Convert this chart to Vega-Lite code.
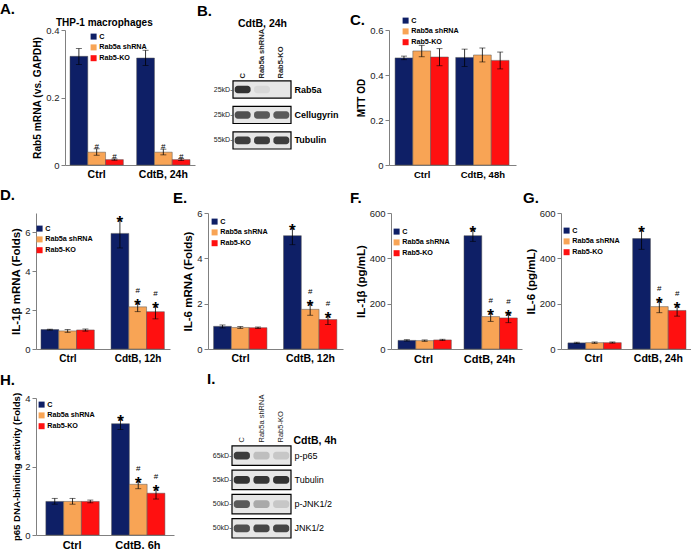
{
"$schema": "https://vega.github.io/schema/vega-lite/v6.json",
"padding": {"left": 0, "top": 2, "right": 0, "bottom": 0},
"background": "white",
"config": {
 "font": "Liberation Sans",
 "view": {"stroke": null},
 "axis": {"grid": false, "domainColor": "#808080", "tickColor": "#808080", "labelColor": "#222222", "titleColor": "black", "labelFont": "Liberation Sans", "titleFont": "Liberation Sans"},
 "axisY": {"tickSize": 4, "labelFontSize": 9.5, "titleFontSize": 11, "titleFontWeight": "bold", "labelPadding": 2, "titlePadding": 3},
 "legend": {"title": null, "symbolType": "square", "symbolSize": 36, "symbolStrokeWidth": 0, "labelFontSize": 7.2, "labelFontWeight": "bold", "labelColor": "black", "rowPadding": 2.8, "labelOffset": 2, "padding": 0},
 "title": {"font": "Liberation Sans", "fontWeight": "bold", "fontSize": 15, "anchor": "start", "frame": "group", "color": "black", "offset": 2}
},
"datasets": {
 "bars": [
  {"panel":"A","grp":"Ctrl","cond":"C","v":0.322,"lo":0.298,"hi":0.345,"star":false,"hash":false},
  {"panel":"A","grp":"Ctrl","cond":"Rab5a shRNA","v":0.038,"lo":0.029,"hi":0.048,"star":false,"hash":true},
  {"panel":"A","grp":"Ctrl","cond":"Rab5-KO","v":0.016,"lo":0.014,"hi":0.018,"star":false,"hash":true},
  {"panel":"A","grp":"CdtB, 24h","cond":"C","v":0.317,"lo":0.295,"hi":0.340,"star":false,"hash":false},
  {"panel":"A","grp":"CdtB, 24h","cond":"Rab5a shRNA","v":0.038,"lo":0.030,"hi":0.047,"star":false,"hash":true},
  {"panel":"A","grp":"CdtB, 24h","cond":"Rab5-KO","v":0.016,"lo":0.013,"hi":0.019,"star":false,"hash":true},
  {"panel":"C","grp":"Ctrl","cond":"C","v":0.476,"lo":0.468,"hi":0.484,"star":false,"hash":false},
  {"panel":"C","grp":"Ctrl","cond":"Rab5a shRNA","v":0.507,"lo":0.481,"hi":0.532,"star":false,"hash":false},
  {"panel":"C","grp":"Ctrl","cond":"Rab5-KO","v":0.480,"lo":0.441,"hi":0.517,"star":false,"hash":false},
  {"panel":"C","grp":"CdtB, 48h","cond":"C","v":0.478,"lo":0.438,"hi":0.515,"star":false,"hash":false},
  {"panel":"C","grp":"CdtB, 48h","cond":"Rab5a shRNA","v":0.489,"lo":0.458,"hi":0.520,"star":false,"hash":false},
  {"panel":"C","grp":"CdtB, 48h","cond":"Rab5-KO","v":0.465,"lo":0.427,"hi":0.502,"star":false,"hash":false},
  {"panel":"D","grp":"Ctrl","cond":"C","v":1.00,"lo":0.97,"hi":1.02,"star":false,"hash":false},
  {"panel":"D","grp":"Ctrl","cond":"Rab5a shRNA","v":0.93,"lo":0.86,"hi":1.00,"star":false,"hash":false},
  {"panel":"D","grp":"Ctrl","cond":"Rab5-KO","v":0.98,"lo":0.92,"hi":1.03,"star":false,"hash":false},
  {"panel":"D","grp":"CdtB, 12h","cond":"C","v":5.95,"lo":5.20,"hi":6.70,"star":true,"hash":false},
  {"panel":"D","grp":"CdtB, 12h","cond":"Rab5a shRNA","v":2.17,"lo":1.92,"hi":2.42,"star":true,"hash":true},
  {"panel":"D","grp":"CdtB, 12h","cond":"Rab5-KO","v":1.92,"lo":1.55,"hi":2.28,"star":true,"hash":true},
  {"panel":"E","grp":"Ctrl","cond":"C","v":1.00,"lo":0.93,"hi":1.06,"star":false,"hash":false},
  {"panel":"E","grp":"Ctrl","cond":"Rab5a shRNA","v":0.95,"lo":0.91,"hi":0.99,"star":false,"hash":false},
  {"panel":"E","grp":"Ctrl","cond":"Rab5-KO","v":0.94,"lo":0.91,"hi":0.97,"star":false,"hash":false},
  {"panel":"E","grp":"CdtB, 12h","cond":"C","v":5.00,"lo":4.60,"hi":5.40,"star":true,"hash":false},
  {"panel":"E","grp":"CdtB, 12h","cond":"Rab5a shRNA","v":1.75,"lo":1.49,"hi":2.02,"star":true,"hash":true},
  {"panel":"E","grp":"CdtB, 12h","cond":"Rab5-KO","v":1.30,"lo":1.08,"hi":1.52,"star":true,"hash":true},
  {"panel":"F","grp":"Ctrl","cond":"C","v":38,"lo":35,"hi":41,"star":false,"hash":false},
  {"panel":"F","grp":"Ctrl","cond":"Rab5a shRNA","v":37,"lo":34,"hi":40,"star":false,"hash":false},
  {"panel":"F","grp":"Ctrl","cond":"Rab5-KO","v":40,"lo":37,"hi":43,"star":false,"hash":false},
  {"panel":"F","grp":"CdtB, 24h","cond":"C","v":500,"lo":475,"hi":528,"star":true,"hash":false},
  {"panel":"F","grp":"CdtB, 24h","cond":"Rab5a shRNA","v":143,"lo":122,"hi":165,"star":true,"hash":true},
  {"panel":"F","grp":"CdtB, 24h","cond":"Rab5-KO","v":137,"lo":116,"hi":157,"star":true,"hash":true},
  {"panel":"G","grp":"Ctrl","cond":"C","v":27,"lo":24,"hi":30,"star":false,"hash":false},
  {"panel":"G","grp":"Ctrl","cond":"Rab5a shRNA","v":28,"lo":25,"hi":31,"star":false,"hash":false},
  {"panel":"G","grp":"Ctrl","cond":"Rab5-KO","v":28,"lo":26,"hi":31,"star":false,"hash":false},
  {"panel":"G","grp":"CdtB, 24h","cond":"C","v":487,"lo":440,"hi":530,"star":true,"hash":false},
  {"panel":"G","grp":"CdtB, 24h","cond":"Rab5a shRNA","v":187,"lo":160,"hi":215,"star":true,"hash":true},
  {"panel":"G","grp":"CdtB, 24h","cond":"Rab5-KO","v":170,"lo":145,"hi":195,"star":true,"hash":true},
  {"panel":"H","grp":"Ctrl","cond":"C","v":0.98,"lo":0.90,"hi":1.07,"star":false,"hash":false},
  {"panel":"H","grp":"Ctrl","cond":"Rab5a shRNA","v":0.98,"lo":0.90,"hi":1.07,"star":false,"hash":false},
  {"panel":"H","grp":"Ctrl","cond":"Rab5-KO","v":0.98,"lo":0.94,"hi":1.02,"star":false,"hash":false},
  {"panel":"H","grp":"CdtB, 6h","cond":"C","v":3.25,"lo":3.08,"hi":3.42,"star":true,"hash":false},
  {"panel":"H","grp":"CdtB, 6h","cond":"Rab5a shRNA","v":1.48,"lo":1.35,"hi":1.62,"star":true,"hash":true},
  {"panel":"H","grp":"CdtB, 6h","cond":"Rab5-KO","v":1.22,"lo":1.05,"hi":1.38,"star":true,"hash":true}
 ],
 "frames": [
  {"blot":"B","key":"25kD-|Rab5a"},
  {"blot":"B","key":"25kD-|Cellugyrin"},
  {"blot":"B","key":"55kD-|Tubulin"},
  {"blot":"I","key":"65kD-|p-p65"},
  {"blot":"I","key":"55kD-|Tubulin"},
  {"blot":"I","key":"50kD-|p-JNK1/2"},
  {"blot":"I","key":"50kD-|JNK1/2"}
 ],
 "blots": [
  {"blot":"B","key":"25kD-|Rab5a","lane":"C","inten":0.9},
  {"blot":"B","key":"25kD-|Rab5a","lane":"Rab5a shRNA","inten":0.07},
  {"blot":"B","key":"25kD-|Rab5a","lane":"Rab5-KO","inten":0.0},
  {"blot":"B","key":"25kD-|Cellugyrin","lane":"C","inten":0.75},
  {"blot":"B","key":"25kD-|Cellugyrin","lane":"Rab5a shRNA","inten":0.7},
  {"blot":"B","key":"25kD-|Cellugyrin","lane":"Rab5-KO","inten":0.7},
  {"blot":"B","key":"55kD-|Tubulin","lane":"C","inten":0.85},
  {"blot":"B","key":"55kD-|Tubulin","lane":"Rab5a shRNA","inten":0.85},
  {"blot":"B","key":"55kD-|Tubulin","lane":"Rab5-KO","inten":0.85},
  {"blot":"I","key":"65kD-|p-p65","lane":"C","inten":0.85},
  {"blot":"I","key":"65kD-|p-p65","lane":"Rab5a shRNA","inten":0.2},
  {"blot":"I","key":"65kD-|p-p65","lane":"Rab5-KO","inten":0.15},
  {"blot":"I","key":"55kD-|Tubulin","lane":"C","inten":0.9},
  {"blot":"I","key":"55kD-|Tubulin","lane":"Rab5a shRNA","inten":0.88},
  {"blot":"I","key":"55kD-|Tubulin","lane":"Rab5-KO","inten":0.9},
  {"blot":"I","key":"50kD-|p-JNK1/2","lane":"C","inten":0.7},
  {"blot":"I","key":"50kD-|p-JNK1/2","lane":"Rab5a shRNA","inten":0.3},
  {"blot":"I","key":"50kD-|p-JNK1/2","lane":"Rab5-KO","inten":0.15},
  {"blot":"I","key":"50kD-|JNK1/2","lane":"C","inten":0.75},
  {"blot":"I","key":"50kD-|JNK1/2","lane":"Rab5a shRNA","inten":0.8},
  {"blot":"I","key":"50kD-|JNK1/2","lane":"Rab5-KO","inten":0.8}
 ]
},
"spacing": 8,
"resolve": {"scale": {"color": "independent", "x": "independent", "y": "independent"}, "legend": {"color": "independent"}},
"vconcat": [
 {"bounds": "flush", "spacing": 0,
  "resolve": {"scale": {"color": "independent", "x": "independent", "y": "independent"}, "legend": {"color": "independent"}},
  "hconcat": [
 {"width": 29, "height": 135, "title": {"text": "A.", "dx": -36, "offset": 13}, "data": {"values": []}, "mark": {"type": "point", "opacity": 0}},
 {"width": 130, "height": 135,
  "title": {"text": "THP-1 macrophages", "fontSize": 10, "dx": -9, "offset": -3},
  "data": {"name": "bars"},
  "transform": [{"filter": "datum.panel === 'A'"}],
  "encoding": {
   "x": {"field": "grp", "type": "nominal", "sort": null, "scale": {"paddingInner": 0.2, "paddingOuter": 0.075}, "axis": {"title": null, "labelAngle": 0, "labelFontSize": 10.5, "labelFontWeight": "bold", "labelColor": "black", "ticks": false, "labelPadding": 4}},
   "xOffset": {"field": "cond", "type": "nominal", "scale": {"domain": ["C", "Rab5a shRNA", "Rab5-KO"], "paddingInner": 0, "paddingOuter": 0}}
  },
  "layer": [
   {"mark": {"type": "bar", "stroke": "#555555", "strokeWidth": 0.5},
    "encoding": {
     "y": {"field": "v", "type": "quantitative", "scale": {"domain": [0, 0.4], "nice": false}, "axis": {"values": [0, 0.1, 0.2, 0.3, 0.4], "format": "~g", "title": "Rab5 mRNA (vs. GAPDH)", "titleFontSize": 10.2}},
     "color": {"field": "cond", "type": "nominal", "scale": {"domain": ["C", "Rab5a shRNA", "Rab5-KO"], "range": ["#0e1f66", "#f8a455", "#ff1010"]}, "legend": {"orient": "none", "legendX": 25, "legendY": 3}}
    }},
   {"mark": {"type": "rule", "color": "black", "strokeWidth": 0.8}, "encoding": {"y": {"field": "lo", "type": "quantitative"}, "y2": {"field": "hi"}}},
   {"mark": {"type": "tick", "color": "black", "thickness": 0.8, "size": 6}, "encoding": {"y": {"field": "lo", "type": "quantitative"}}},
   {"mark": {"type": "tick", "color": "black", "thickness": 0.8, "size": 6}, "encoding": {"y": {"field": "hi", "type": "quantitative"}}},
   {"transform": [{"filter": "datum.hash"}], "mark": {"type": "text", "text": "#", "fontSize": 8, "dy": -2, "color": "black"}, "encoding": {"y": {"field": "hi", "type": "quantitative"}}}
  ]
 },
 {"width": 38, "height": 135, "data": {"values": []}, "mark": {"type": "point", "opacity": 0}},
 {"width": 58, "height": 119,
  "title": {"text": "B.", "dx": -36, "offset": -1},
  "layer": [
   {"data": {"name": "frames"}, "transform": [{"filter": "datum.blot === 'B'"}],
    "mark": {"type": "rect", "fill": "#e6e6e6", "stroke": "black", "strokeWidth": 1.2},
    "encoding": {"y": {"field": "key", "type": "nominal", "sort": null, "scale": {"paddingInner": 0.33, "paddingOuter": 1, "align": 1}, "axis": {"orient": "left", "labelExpr": "split(datum.value, '|')[0]", "title": null, "ticks": false, "domain": false, "labelFontSize": 7, "labelPadding": 1, "labelColor": "#222222"}}}},
   {"data": {"name": "blots"}, "transform": [{"filter": "datum.blot === 'B'"}],
    "mark": {"type": "rect", "fill": "#1e1e1e", "width": {"band": 0.82}, "height": {"band": 0.45}, "cornerRadius": 3},
    "encoding": {
     "x": {"field": "lane", "type": "nominal", "sort": null, "scale": {"paddingInner": 0, "paddingOuter": 0}, "axis": {"orient": "top", "labelAngle": -90, "labelFontSize": 7.5, "labelFontWeight": "bold", "labelColor": "#222222", "ticks": false, "domain": false, "offset": -50, "labelPadding": 2, "title": "CdtB, 24h", "titleFontSize": 10.5, "titleFontWeight": "bold", "titlePadding": 0}},
     "y": {"field": "key", "type": "nominal", "sort": null, "axis": {"orient": "right", "labelExpr": "split(datum.value, '|')[1]", "title": null, "ticks": false, "domain": false, "labelFontSize": 9, "labelFontWeight": "bold", "labelColor": "black", "labelPadding": 3}},
     "opacity": {"field": "inten", "type": "quantitative", "scale": {"domain": [0, 1], "range": [0, 1]}, "legend": null}
    }}
  ],
  "resolve": {"axis": {"y": "independent"}}
 },
 {"width": 98, "height": 135, "data": {"values": []}, "mark": {"type": "point", "opacity": 0}},
 {"width": 127, "height": 135,
  "title": {"text": "C.", "dx": -39, "offset": 0, "dy": 11},
  "data": {"name": "bars"},
  "transform": [{"filter": "datum.panel === 'C'"}],
  "encoding": {
   "x": {"field": "grp", "type": "nominal", "sort": null, "scale": {"paddingInner": 0.106, "paddingOuter": 0.1}, "axis": {"title": null, "labelAngle": 0, "labelFontSize": 9.5, "labelFontWeight": "bold", "labelColor": "black", "ticks": false, "labelPadding": 4}},
   "xOffset": {"field": "cond", "type": "nominal", "scale": {"domain": ["C", "Rab5a shRNA", "Rab5-KO"], "paddingInner": 0, "paddingOuter": 0}}
  },
  "layer": [
   {"mark": {"type": "bar", "stroke": "#555555", "strokeWidth": 0.5},
    "encoding": {
     "y": {"field": "v", "type": "quantitative", "scale": {"domain": [0, 0.6], "nice": false}, "axis": {"values": [0, 0.1, 0.2, 0.3, 0.4, 0.5, 0.6], "format": "~g", "title": "MTT OD", "titleFontSize": 10}},
     "color": {"field": "cond", "type": "nominal", "scale": {"domain": ["C", "Rab5a shRNA", "Rab5-KO"], "range": ["#0e1f66", "#f8a455", "#ff1010"]}, "legend": {"orient": "none", "legendX": 13, "legendY": -13}}
    }},
   {"mark": {"type": "rule", "color": "black", "strokeWidth": 0.8}, "encoding": {"y": {"field": "lo", "type": "quantitative"}, "y2": {"field": "hi"}}},
   {"mark": {"type": "tick", "color": "black", "thickness": 0.8, "size": 6}, "encoding": {"y": {"field": "lo", "type": "quantitative"}}},
   {"mark": {"type": "tick", "color": "black", "thickness": 0.8, "size": 6}, "encoding": {"y": {"field": "hi", "type": "quantitative"}}}
  ]
 }
  ]
 },
 {"bounds": "flush", "spacing": 0,
  "resolve": {"scale": {"color": "independent", "x": "independent", "y": "independent"}, "legend": {"color": "independent"}},
  "hconcat": [
 {"width": 134, "height": 136,
  "title": {"text": "D.", "dx": -36, "offset": 10},
  "data": {"name": "bars"},
  "transform": [{"filter": "datum.panel === 'D'"}],
  "encoding": {
   "x": {"field": "grp", "type": "nominal", "sort": null, "scale": {"paddingInner": 0.229, "paddingOuter": 0.071}, "axis": {"title": null, "labelAngle": 0, "labelFontSize": 10, "labelFontWeight": "bold", "labelColor": "black", "ticks": false, "labelPadding": 4}},
   "xOffset": {"field": "cond", "type": "nominal", "scale": {"domain": ["C", "Rab5a shRNA", "Rab5-KO"], "paddingInner": 0, "paddingOuter": 0}}
  },
  "layer": [
   {"mark": {"type": "bar", "stroke": "#555555", "strokeWidth": 0.5},
    "encoding": {
     "y": {"field": "v", "type": "quantitative", "scale": {"domain": [0, 7], "nice": false}, "axis": {"values": [0, 1, 2, 3, 4, 5, 6, 7], "title": "IL-1β mRNA (Folds)", "titleFontSize": 11.5}},
     "color": {"field": "cond", "type": "nominal", "scale": {"domain": ["C", "Rab5a shRNA", "Rab5-KO"], "range": ["#0e1f66", "#f8a455", "#ff1010"]}, "legend": {"orient": "none", "legendX": 0, "legendY": 12}}
    }},
   {"mark": {"type": "rule", "color": "black", "strokeWidth": 0.8}, "encoding": {"y": {"field": "lo", "type": "quantitative"}, "y2": {"field": "hi"}}},
   {"mark": {"type": "tick", "color": "black", "thickness": 0.8, "size": 6}, "encoding": {"y": {"field": "lo", "type": "quantitative"}}},
   {"mark": {"type": "tick", "color": "black", "thickness": 0.8, "size": 6}, "encoding": {"y": {"field": "hi", "type": "quantitative"}}},
   {"transform": [{"filter": "datum.star"}], "mark": {"type": "text", "text": "*", "fontSize": 17, "fontWeight": "bold", "dy": 4, "color": "black"}, "encoding": {"y": {"field": "hi", "type": "quantitative"}}},
   {"transform": [{"filter": "datum.hash"}], "mark": {"type": "text", "text": "#", "fontSize": 8, "dy": -11, "color": "black"}, "encoding": {"y": {"field": "hi", "type": "quantitative"}}}
  ]
 },
 {"width": 38, "height": 136, "data": {"values": []}, "mark": {"type": "point", "opacity": 0}},
 {"width": 135, "height": 136,
  "title": {"text": "E.", "dx": -35},
  "data": {"name": "bars"},
  "transform": [{"filter": "datum.panel === 'E'"}],
  "encoding": {
   "x": {"field": "grp", "type": "nominal", "sort": null, "scale": {"paddingInner": 0.229, "paddingOuter": 0.08}, "axis": {"title": null, "labelAngle": 0, "labelFontSize": 10.5, "labelFontWeight": "bold", "labelColor": "black", "ticks": false, "labelPadding": 4}},
   "xOffset": {"field": "cond", "type": "nominal", "scale": {"domain": ["C", "Rab5a shRNA", "Rab5-KO"], "paddingInner": 0, "paddingOuter": 0}}
  },
  "layer": [
   {"mark": {"type": "bar", "stroke": "#555555", "strokeWidth": 0.5},
    "encoding": {
     "y": {"field": "v", "type": "quantitative", "scale": {"domain": [0, 6], "nice": false}, "axis": {"values": [0, 1, 2, 3, 4, 5, 6], "title": "IL-6 mRNA (Folds)", "titleFontSize": 11.5}},
     "color": {"field": "cond", "type": "nominal", "scale": {"domain": ["C", "Rab5a shRNA", "Rab5-KO"], "range": ["#0e1f66", "#f8a455", "#ff1010"]}, "legend": {"orient": "none", "legendX": 3, "legendY": 5}}
    }},
   {"mark": {"type": "rule", "color": "black", "strokeWidth": 0.8}, "encoding": {"y": {"field": "lo", "type": "quantitative"}, "y2": {"field": "hi"}}},
   {"mark": {"type": "tick", "color": "black", "thickness": 0.8, "size": 6}, "encoding": {"y": {"field": "lo", "type": "quantitative"}}},
   {"mark": {"type": "tick", "color": "black", "thickness": 0.8, "size": 6}, "encoding": {"y": {"field": "hi", "type": "quantitative"}}},
   {"transform": [{"filter": "datum.star"}], "mark": {"type": "text", "text": "*", "fontSize": 17, "fontWeight": "bold", "dy": 4, "color": "black"}, "encoding": {"y": {"field": "hi", "type": "quantitative"}}},
   {"transform": [{"filter": "datum.hash"}], "mark": {"type": "text", "text": "#", "fontSize": 8, "dy": -11, "color": "black"}, "encoding": {"y": {"field": "hi", "type": "quantitative"}}}
  ]
 },
 {"width": 48, "height": 136, "data": {"values": []}, "mark": {"type": "point", "opacity": 0}},
 {"width": 131, "height": 136,
  "title": {"text": "F.", "dx": -41},
  "data": {"name": "bars"},
  "transform": [{"filter": "datum.panel === 'F'"}],
  "encoding": {
   "x": {"field": "grp", "type": "nominal", "sort": null, "scale": {"paddingInner": 0.227, "paddingOuter": 0.106}, "axis": {"title": null, "labelAngle": 0, "labelFontSize": 11, "labelFontWeight": "bold", "labelColor": "black", "ticks": false, "labelPadding": 4}},
   "xOffset": {"field": "cond", "type": "nominal", "scale": {"domain": ["C", "Rab5a shRNA", "Rab5-KO"], "paddingInner": 0, "paddingOuter": 0}}
  },
  "layer": [
   {"mark": {"type": "bar", "stroke": "#555555", "strokeWidth": 0.5},
    "encoding": {
     "y": {"field": "v", "type": "quantitative", "scale": {"domain": [0, 600], "nice": false}, "axis": {"values": [0, 200, 400, 600], "title": "IL-1β (pg/mL)", "titleFontSize": 11.5}},
     "color": {"field": "cond", "type": "nominal", "scale": {"domain": ["C", "Rab5a shRNA", "Rab5-KO"], "range": ["#0e1f66", "#f8a455", "#ff1010"]}, "legend": {"orient": "none", "legendX": 2, "legendY": 15}}
    }},
   {"mark": {"type": "rule", "color": "black", "strokeWidth": 0.8}, "encoding": {"y": {"field": "lo", "type": "quantitative"}, "y2": {"field": "hi"}}},
   {"mark": {"type": "tick", "color": "black", "thickness": 0.8, "size": 6}, "encoding": {"y": {"field": "lo", "type": "quantitative"}}},
   {"mark": {"type": "tick", "color": "black", "thickness": 0.8, "size": 6}, "encoding": {"y": {"field": "hi", "type": "quantitative"}}},
   {"transform": [{"filter": "datum.star"}], "mark": {"type": "text", "text": "*", "fontSize": 17, "fontWeight": "bold", "dy": 4, "color": "black"}, "encoding": {"y": {"field": "hi", "type": "quantitative"}}},
   {"transform": [{"filter": "datum.hash"}], "mark": {"type": "text", "text": "#", "fontSize": 8, "dy": -11, "color": "black"}, "encoding": {"y": {"field": "hi", "type": "quantitative"}}}
  ]
 },
 {"width": 39, "height": 136, "data": {"values": []}, "mark": {"type": "point", "opacity": 0}},
 {"width": 130, "height": 136,
  "title": {"text": "G.", "dx": -38},
  "data": {"name": "bars"},
  "transform": [{"filter": "datum.panel === 'G'"}],
  "encoding": {
   "x": {"field": "grp", "type": "nominal", "sort": null, "scale": {"paddingInner": 0.206, "paddingOuter": 0.107}, "axis": {"title": null, "labelAngle": 0, "labelFontSize": 10.5, "labelFontWeight": "bold", "labelColor": "black", "ticks": false, "labelPadding": 4}},
   "xOffset": {"field": "cond", "type": "nominal", "scale": {"domain": ["C", "Rab5a shRNA", "Rab5-KO"], "paddingInner": 0, "paddingOuter": 0}}
  },
  "layer": [
   {"mark": {"type": "bar", "stroke": "#555555", "strokeWidth": 0.5},
    "encoding": {
     "y": {"field": "v", "type": "quantitative", "scale": {"domain": [0, 600], "nice": false}, "axis": {"values": [0, 200, 400, 600], "title": "IL-6 (pg/mL)", "titleFontSize": 11.5}},
     "color": {"field": "cond", "type": "nominal", "scale": {"domain": ["C", "Rab5a shRNA", "Rab5-KO"], "range": ["#0e1f66", "#f8a455", "#ff1010"]}, "legend": {"orient": "none", "legendX": 2, "legendY": 14}}
    }},
   {"mark": {"type": "rule", "color": "black", "strokeWidth": 0.8}, "encoding": {"y": {"field": "lo", "type": "quantitative"}, "y2": {"field": "hi"}}},
   {"mark": {"type": "tick", "color": "black", "thickness": 0.8, "size": 6}, "encoding": {"y": {"field": "lo", "type": "quantitative"}}},
   {"mark": {"type": "tick", "color": "black", "thickness": 0.8, "size": 6}, "encoding": {"y": {"field": "hi", "type": "quantitative"}}},
   {"transform": [{"filter": "datum.star"}], "mark": {"type": "text", "text": "*", "fontSize": 17, "fontWeight": "bold", "dy": 4, "color": "black"}, "encoding": {"y": {"field": "hi", "type": "quantitative"}}},
   {"transform": [{"filter": "datum.hash"}], "mark": {"type": "text", "text": "#", "fontSize": 8, "dy": -11, "color": "black"}, "encoding": {"y": {"field": "hi", "type": "quantitative"}}}
  ]
 }
  ]
 },
 {"bounds": "flush", "spacing": 0,
  "resolve": {"scale": {"color": "independent", "x": "independent", "y": "independent"}, "legend": {"color": "independent"}},
  "hconcat": [
 {"width": 138, "height": 137,
  "title": {"text": "H.", "dx": -36, "offset": 4},
  "data": {"name": "bars"},
  "transform": [{"filter": "datum.panel === 'H'"}],
  "encoding": {
   "x": {"field": "grp", "type": "nominal", "sort": null, "scale": {"paddingInner": 0.2, "paddingOuter": 0.15}, "axis": {"title": null, "labelAngle": 0, "labelFontSize": 11, "labelFontWeight": "bold", "labelColor": "black", "ticks": false, "labelPadding": 4}},
   "xOffset": {"field": "cond", "type": "nominal", "scale": {"domain": ["C", "Rab5a shRNA", "Rab5-KO"], "paddingInner": 0, "paddingOuter": 0}}
  },
  "layer": [
   {"mark": {"type": "bar", "stroke": "#555555", "strokeWidth": 0.5},
    "encoding": {
     "y": {"field": "v", "type": "quantitative", "scale": {"domain": [0, 4], "nice": false}, "axis": {"values": [0, 1, 2, 3, 4], "title": "p65 DNA-binding activity (Folds)", "titleFontSize": 9.6}},
     "color": {"field": "cond", "type": "nominal", "scale": {"domain": ["C", "Rab5a shRNA", "Rab5-KO"], "range": ["#0e1f66", "#f8a455", "#ff1010"]}, "legend": {"orient": "none", "legendX": 2, "legendY": 3}}
    }},
   {"mark": {"type": "rule", "color": "black", "strokeWidth": 0.8}, "encoding": {"y": {"field": "lo", "type": "quantitative"}, "y2": {"field": "hi"}}},
   {"mark": {"type": "tick", "color": "black", "thickness": 0.8, "size": 6}, "encoding": {"y": {"field": "lo", "type": "quantitative"}}},
   {"mark": {"type": "tick", "color": "black", "thickness": 0.8, "size": 6}, "encoding": {"y": {"field": "hi", "type": "quantitative"}}},
   {"transform": [{"filter": "datum.star"}], "mark": {"type": "text", "text": "*", "fontSize": 17, "fontWeight": "bold", "dy": 4, "color": "black"}, "encoding": {"y": {"field": "hi", "type": "quantitative"}}},
   {"transform": [{"filter": "datum.hash"}], "mark": {"type": "text", "text": "#", "fontSize": 8, "dy": -11, "color": "black"}, "encoding": {"y": {"field": "hi", "type": "quantitative"}}}
  ]
 },
 {"width": 58, "height": 137, "data": {"values": []}, "mark": {"type": "point", "opacity": 0}},
 {"width": 59, "height": 140,
  "title": {"text": "I.", "dx": -25, "offset": 7},
  "layer": [
   {"data": {"name": "frames"}, "transform": [{"filter": "datum.blot === 'I'"}],
    "mark": {"type": "rect", "fill": "#e6e6e6", "stroke": "black", "strokeWidth": 1.2},
    "encoding": {"y": {"field": "key", "type": "nominal", "sort": null, "scale": {"paddingInner": 0.2, "paddingOuter": 0.99, "align": 1}, "axis": {"orient": "left", "labelExpr": "split(datum.value, '|')[0]", "title": null, "ticks": false, "domain": false, "labelFontSize": 7, "labelPadding": 1, "labelColor": "#222222"}}}},
   {"data": {"name": "blots"}, "transform": [{"filter": "datum.blot === 'I'"}],
    "mark": {"type": "rect", "fill": "#1e1e1e", "width": {"band": 0.82}, "height": {"band": 0.4}, "cornerRadius": 3},
    "encoding": {
     "x": {"field": "lane", "type": "nominal", "sort": null, "scale": {"paddingInner": 0, "paddingOuter": 0}, "axis": {"orient": "top", "labelAngle": -90, "labelFontSize": 7.5, "labelColor": "#222222", "ticks": false, "domain": false, "offset": -46, "labelPadding": 2, "title": "CdtB, 4h", "titleFontSize": 10.5, "titleFontWeight": "bold", "titleAngle": 0, "titleAlign": "left", "titleBaseline": "alphabetic", "titleX": 61, "titleY": -1}},
     "y": {"field": "key", "type": "nominal", "sort": null, "axis": {"orient": "right", "labelExpr": "split(datum.value, '|')[1]", "title": null, "ticks": false, "domain": false, "labelFontSize": 9, "labelColor": "black", "labelPadding": 3}},
     "opacity": {"field": "inten", "type": "quantitative", "scale": {"domain": [0, 1], "range": [0, 1]}, "legend": null}
    }}
  ],
  "resolve": {"axis": {"y": "independent"}}
 }
  ]
 }
]
}
